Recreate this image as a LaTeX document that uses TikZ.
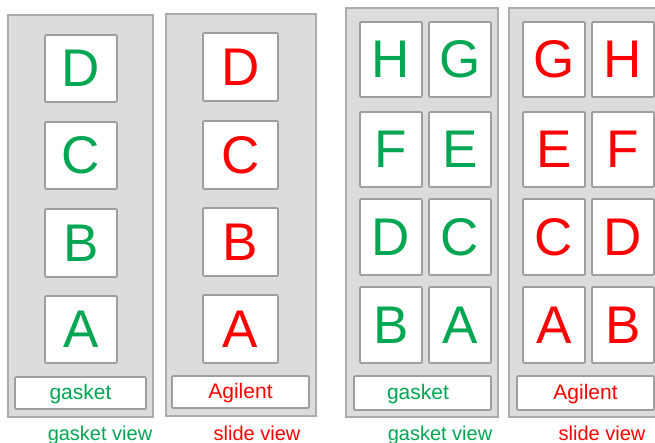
\documentclass[tikz,border=0pt]{standalone}
\usepackage{fontspec}
\setmainfont{Liberation Sans}
\definecolor{gk}{HTML}{00A651}
\definecolor{rd}{HTML}{FF0000}
\definecolor{panelfill}{HTML}{DCDCDC}
\definecolor{panelline}{HTML}{ABABAB}
\definecolor{boxline}{HTML}{9E9E9E}
\begin{document}
\begin{tikzpicture}[x=1pt,y=-1pt,
  panel/.style={draw=panelline,fill=panelfill,line width=2pt},
  cell/.style={draw=boxline,fill=white,line width=1.6pt,rounded corners=1pt},
  big/.style={font=\fontsize{53}{53}\selectfont},
  lab/.style={font=\fontsize{21}{21}\selectfont,anchor=base},
  captxt/.style={font=\fontsize{20}{20}\selectfont,anchor=base}]
\useasboundingbox (0,0) rectangle (655,442);
\clip (0,0) rectangle (655,442);
% panel 1
\draw[panel] (8,15) rectangle (153,417);
\foreach \n/\t/\b in {D/35/102, C/122/189, B/209/277, A/296/363}{
  \draw[cell] (45,\t) rectangle (117,\b);
  \node[big,text=gk] (p1\n) at (81,{(\t+\b)/2}) {\n};
}
\draw[cell] (15,377) rectangle (146,409);
\node[lab,text=gk] (p1lab) at (80.5,399) {gasket};
\node[captxt,text=gk] (p1cap) at (100,440) {gasket view};
% panel 2
\draw[panel] (166,14) rectangle (316,416);
\foreach \n/\t/\b in {D/33/101, C/121/189, B/208/276, A/295/363}{
  \draw[cell] (203,\t) rectangle (278,\b);
  \node[big,text=rd] (p2\n) at (240.5,{(\t+\b)/2}) {\n};
}
\draw[cell] (172,376) rectangle (309,408);
\node[lab,text=rd] (p2lab) at (240.5,398) {Agilent};
\node[captxt,text=rd] (p2cap) at (257,440) {slide view};
% panel 3
\draw[panel] (346,8) rectangle (498,417);
\foreach \a/\b/\t/\bt in {H/G/22/97, F/E/112/187, D/C/199/275, B/A/287/363}{
  \draw[cell] (360,\t) rectangle (422,\bt);
  \draw[cell] (429,\t) rectangle (491,\bt);
  \node[big,text=gk] (p3\a) at (391,{(\t+\bt)/2}) {\a};
  \node[big,text=gk] (p3\b) at (460,{(\t+\bt)/2}) {\b};
}
\draw[cell] (354,376) rectangle (491,410);
\node[lab,text=gk] (p3lab) at (418,399) {gasket};
\node[captxt,text=gk] (p3cap) at (440,440) {gasket view};
% panel 4
\draw[panel] (509,8) rectangle (661,417);
\foreach \a/\b/\t/\bt in {G/H/22/97, E/F/112/187, C/D/199/275, A/B/287/363}{
  \draw[cell] (523,\t) rectangle (585,\bt);
  \draw[cell] (592,\t) rectangle (654,\bt);
  \node[big,text=rd] (p4\a) at (554,{(\t+\bt)/2}) {\a};
  \node[big,text=rd] (p4\b) at (623,{(\t+\bt)/2}) {\b};
}
\draw[cell] (517,376) rectangle (654,410);
\node[lab,text=rd] (p4lab) at (585.5,399) {Agilent};
\node[captxt,text=rd] (p4cap) at (602,440) {slide view};
\end{tikzpicture}
\end{document}
